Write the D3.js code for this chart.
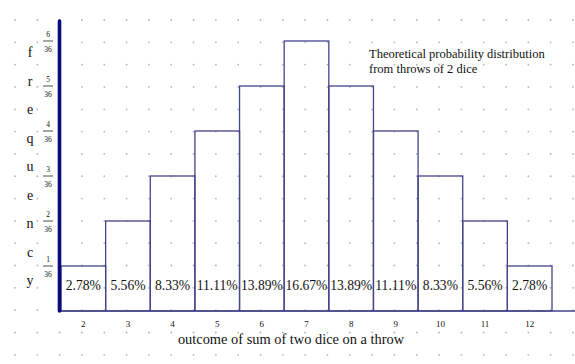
<!DOCTYPE html>
<html><head><meta charset="utf-8">
<script src="https://cdn.jsdelivr.net/npm/d3@7"></script>
<style>body{margin:0;background:#fff}svg{display:block}text{font-family:"Liberation Serif","Times New Roman",serif;fill:#111}</style>
</head><body>
<script>
const outcomes = [2,3,4,5,6,7,8,9,10,11,12];
const ways = [1,2,3,4,5,6,5,4,3,2,1];
const pctLabels = ["2.78%","5.56%","8.33%","11.11%","13.89%","16.67%","13.89%","11.11%","8.33%","5.56%","2.78%"];
const yTickNums = [1,2,3,4,5,6];
const yTickDen = 36;
const yLetters = "frequency".split("");
const titleLines = ["Theoretical probability distribution","from throws of 2 dice"];
const xTitle = "outcome of sum of two dice on a throw";

const W=575,H=364;
const svg=d3.select("body").append("svg").attr("width",W).attr("height",H);

// dot grid
const gx=d3.range(15,W,22.32), gy=d3.range(20,H,22.32);
const dots=svg.append("g");
gy.forEach(y=>gx.forEach(x=>dots.append("circle").attr("cx",x).attr("cy",y).attr("r",0.9).attr("fill","#b4b4b8")));

const x=d3.scaleBand().domain(outcomes).range([61,552]).padding(0);
const y=d3.scaleLinear().domain([0,6/36]).range([311,41]);
const barCol="#44448a";

// bars
svg.append("g").selectAll("rect").data(outcomes).join("rect")
  .attr("x",d=>x(d)).attr("width",x.bandwidth())
  .attr("y",(d,i)=>y(ways[i]/36)).attr("height",(d,i)=>y(0)-y(ways[i]/36))
  .attr("fill","none").attr("stroke",barCol).attr("stroke-width",1.3);

// baseline
svg.append("line").attr("x1",60).attr("x2",W).attr("y1",y(0)).attr("y2",y(0)).attr("stroke",barCol).attr("stroke-width",1.6);

// percentage labels
svg.append("g").selectAll("text").data(outcomes).join("text")
  .attr("x",d=>x(d)+x.bandwidth()/2).attr("y",290).attr("text-anchor","middle")
  .attr("font-size",13.6).text((d,i)=>pctLabels[i]);

// x ticks
svg.append("g").selectAll("text").data(outcomes).join("text")
  .attr("x",d=>x(d)+x.bandwidth()/2).attr("y",327).attr("text-anchor","middle")
  .attr("font-size",9).text(d=>d);

// y axis thick line
svg.append("line").attr("x1",59.5).attr("x2",59.5).attr("y1",21).attr("y2",y(0)).attr("stroke","#0a0a80").attr("stroke-width",3.6).attr("stroke-linecap","round");

// y fraction ticks
const yt=svg.append("g");
yTickNums.forEach(n=>{
  const yy=y(n/yTickDen);
  yt.append("line").attr("x1",43).attr("x2",53).attr("y1",yy).attr("y2",yy).attr("stroke","#222").attr("stroke-width",0.8);
  yt.append("text").attr("x",48).attr("y",yy-4).attr("text-anchor","middle").attr("font-size",7.5).text(n);
  yt.append("text").attr("x",48).attr("y",yy+10.5).attr("text-anchor","middle").attr("font-size",7.5).text(yTickDen);
});

// y title letters
svg.append("g").selectAll("text").data(yLetters).join("text")
  .attr("x",30).attr("y",(d,i)=>57+i*28.5).attr("text-anchor","middle").attr("font-size",14).text(d=>d);

// chart title
svg.append("g").selectAll("text").data(titleLines).join("text")
  .attr("x",369).attr("y",(d,i)=>58+i*15).attr("font-size",12.5).text(d=>d);

// x title
svg.append("text").attr("x",291).attr("y",344).attr("text-anchor","middle").attr("font-size",14.4).text(xTitle);
</script>
</body></html>
